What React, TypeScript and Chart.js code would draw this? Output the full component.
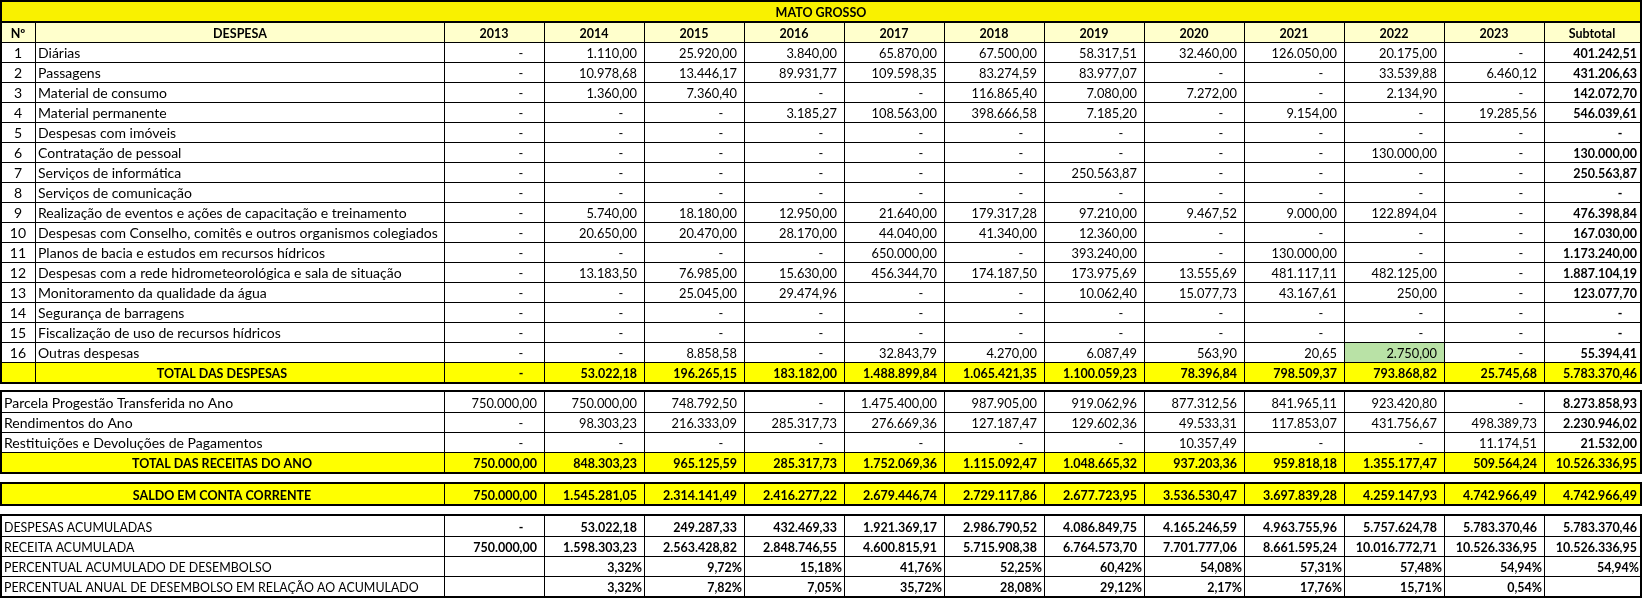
import { useEffect, useRef } from 'react';
import { Chart, registerables } from 'chart.js';

Chart.register(...registerables);

// ---------------- DATA ----------------
const title = 'MATO GROSSO';
const years = ['2013', '2014', '2015', '2016', '2017', '2018', '2019', '2020', '2021', '2022', '2023'];

const despesaLabels = [
  'Diárias',
  'Passagens',
  'Material de consumo',
  'Material permanente',
  'Despesas com imóveis',
  'Contratação de pessoal',
  'Serviços de informática',
  'Serviços de comunicação',
  'Realização de eventos e ações de capacitação e treinamento',
  'Despesas com Conselho, comitês e outros organismos colegiados',
  'Planos de bacia e estudos em recursos hídricos',
  'Despesas com a rede hidrometeorológica e sala de situação',
  'Monitoramento da qualidade da água',
  'Segurança de barragens',
  'Fiscalização de uso de recursos hídricos',
  'Outras despesas',
];

type V = number | null;

const diarias: V[] = [null, 1110.0, 25920.0, 3840.0, 65870.0, 67500.0, 58317.51, 32460.0, 126050.0, 20175.0, null];
const passagens: V[] = [null, 10978.68, 13446.17, 89931.77, 109598.35, 83274.59, 83977.07, null, null, 33539.88, 6460.12];
const materialConsumo: V[] = [null, 1360.0, 7360.4, null, null, 116865.4, 7080.0, 7272.0, null, 2134.9, null];
const materialPermanente: V[] = [null, null, null, 3185.27, 108563.0, 398666.58, 7185.2, null, 9154.0, null, 19285.56];
const imoveis: V[] = [null, null, null, null, null, null, null, null, null, null, null];
const pessoal: V[] = [null, null, null, null, null, null, null, null, null, 130000.0, null];
const informatica: V[] = [null, null, null, null, null, null, 250563.87, null, null, null, null];
const comunicacao: V[] = [null, null, null, null, null, null, null, null, null, null, null];
const eventos: V[] = [null, 5740.0, 18180.0, 12950.0, 21640.0, 179317.28, 97210.0, 9467.52, 9000.0, 122894.04, null];
const conselho: V[] = [null, 20650.0, 20470.0, 28170.0, 44040.0, 41340.0, 12360.0, null, null, null, null];
const planos: V[] = [null, null, null, null, 650000.0, null, 393240.0, null, 130000.0, null, null];
const redeHidro: V[] = [null, 13183.5, 76985.0, 15630.0, 456344.7, 174187.5, 173975.69, 13555.69, 481117.11, 482125.0, null];
const qualidadeAgua: V[] = [null, null, 25045.0, 29474.96, null, null, 10062.4, 15077.73, 43167.61, 250.0, null];
const barragens: V[] = [null, null, null, null, null, null, null, null, null, null, null];
const fiscalizacao: V[] = [null, null, null, null, null, null, null, null, null, null, null];
const outras: V[] = [null, null, 8858.58, null, 32843.79, 4270.0, 6087.49, 563.9, 20.65, 2750.0, null];

const despesaValores: V[][] = [
  diarias, passagens, materialConsumo, materialPermanente, imoveis, pessoal, informatica, comunicacao,
  eventos, conselho, planos, redeHidro, qualidadeAgua, barragens, fiscalizacao, outras,
];
const despesaSubtotal: V[] = [
  401242.51, 431206.63, 142072.7, 546039.61, null, 130000.0, 250563.87, null,
  476398.84, 167030.0, 1173240.0, 1887104.19, 123077.7, null, null, 55394.41,
];

const totalDespesas: V[] = [null, 53022.18, 196265.15, 183182.0, 1488899.84, 1065421.35, 1100059.23, 78396.84, 798509.37, 793868.82, 25745.68];
const totalDespesasSub = 5783370.46;

const parcela: V[] = [750000.0, 750000.0, 748792.5, null, 1475400.0, 987905.0, 919062.96, 877312.56, 841965.11, 923420.8, null];
const parcelaSub = 8273858.93;
const rendimentos: V[] = [null, 98303.23, 216333.09, 285317.73, 276669.36, 127187.47, 129602.36, 49533.31, 117853.07, 431756.67, 498389.73];
const rendimentosSub = 2230946.02;
const restituicoes: V[] = [null, null, null, null, null, null, null, 10357.49, null, null, 11174.51];
const restituicoesSub = 21532.0;
const totalReceitas: V[] = [750000.0, 848303.23, 965125.59, 285317.73, 1752069.36, 1115092.47, 1048665.32, 937203.36, 959818.18, 1355177.47, 509564.24];
const totalReceitasSub = 10526336.95;

const saldo: V[] = [750000.0, 1545281.05, 2314141.49, 2416277.22, 2679446.74, 2729117.86, 2677723.95, 3536530.47, 3697839.28, 4259147.93, 4742966.49];
const saldoSub = 4742966.49;

const despesasAcum: V[] = [null, 53022.18, 249287.33, 432469.33, 1921369.17, 2986790.52, 4086849.75, 4165246.59, 4963755.96, 5757624.78, 5783370.46];
const despesasAcumSub = 5783370.46;
const receitaAcum: V[] = [750000.0, 1598303.23, 2563428.82, 2848746.55, 4600815.91, 5715908.38, 6764573.7, 7701777.06, 8661595.24, 10016772.71, 10526336.95];
const receitaAcumSub = 10526336.95;
const pctAcum: V[] = [null, 3.32, 9.72, 15.18, 41.76, 52.25, 60.42, 54.08, 57.31, 57.48, 54.94];
const pctAcumSub: V = 54.94;
const pctAnual: V[] = [null, 3.32, 7.82, 7.05, 35.72, 28.08, 29.12, 2.17, 17.76, 15.71, 0.54];
const pctAnualSub: V = null;

const receitaLabels = ['Parcela Progestão Transferida no Ano', 'Rendimentos do Ano', 'Restituições e Devoluções de Pagamentos'];
const acumLabels = ['DESPESAS ACUMULADAS', 'RECEITA ACUMULADA', 'PERCENTUAL ACUMULADO DE DESEMBOLSO', 'PERCENTUAL ANUAL DE DESEMBOLSO EM RELAÇÃO AO ACUMULADO'];

// highlighted cell: Outras despesas / 2022
const highlightRow = 15;
const highlightYear = '2022';

// ---------------- LAYOUT ----------------
const W = 1645;
const H = 598;
const FONT = 'Lato, "Noto Sans", sans-serif';
const COL_EDGES = [0, 35, 444, 544, 644, 744, 844, 944, 1044, 1144, 1244, 1344, 1444, 1544, 1640];
const RIGHT = 1642;

const C_TITLE = '#F9F100';
const C_HEADER = '#FFFFCC';
const C_TOTAL = '#FFFF00';
const C_GREEN = '#B9E2A6';

function fmtNum(v: number): string {
  const [i, d] = Math.abs(v).toFixed(2).split('.');
  const ii = i.replace(/\B(?=(\d{3})+(?!\d))/g, '.');
  return (v < 0 ? '-' : '') + ii + ',' + d;
}
function fmtPct(v: number): string {
  return v.toFixed(2).replace('.', ',') + '%';
}

const tablePlugin = {
  id: 'tablePlugin',
  afterDraw(chart: any) {
    const ctx: CanvasRenderingContext2D = chart.ctx;
    const sx = chart.scales.x;
    const sy = chart.scales.y;
    const X = (v: number) => Math.round(sx.getPixelForValue(v));
    const Y = (v: number) => Math.round(sy.getPixelForValue(v));
    const rect = (x0: number, y0: number, x1: number, y1: number, c: string) => {
      ctx.fillStyle = c;
      ctx.fillRect(X(x0), Y(y0), X(x1) - X(x0), Y(y1) - Y(y0));
    };
    const fit = (weight: string, sample: string, target: number) => {
      ctx.font = `${weight} 40px ${FONT}`;
      return (40 * target) / ctx.measureText(sample).width;
    };
    const fReg = `normal ${fit('normal', '923.420,80', 65.5).toFixed(2)}px ${FONT}`;
    const fBold = `bold ${fit('bold', '5.783.370,46', 74).toFixed(2)}px ${FONT}`;
    const fLabel = `normal ${fit('normal', despesaLabels[9], 400).toFixed(2)}px ${FONT}`;
    const fUpper = `normal ${fit('normal', acumLabels[3], 415).toFixed(2)}px ${FONT}`;
    const fBoldLabel = `bold ${fit('bold', 'TOTAL DAS RECEITAS DO ANO', 180).toFixed(2)}px ${FONT}`;

    const text = (s: string, x: number, y: number, align: CanvasTextAlign, font: string) => {
      ctx.font = font;
      ctx.textAlign = align;
      ctx.textBaseline = 'alphabetic';
      ctx.fillStyle = '#000000';
      ctx.fillText(s, X(x), Y(y));
    };

    const yearLeft = (k: number) => COL_EDGES[k + 2];
    const yearRight = (k: number) => COL_EDGES[k + 3];
    const subL = COL_EDGES[13];
    const subR = COL_EDGES[14];

    const numCell = (v: V, right: number, isSub: boolean, baseY: number, font: string) => {
      if (v === null) {
        text('-', right - (isSub ? 20 : 23), baseY, 'center', font);
      } else {
        text(fmtNum(v), right - (isSub ? 3 : 7), baseY, 'right', font);
      }
    };
    const pctCell = (v: V, right: number, isSub: boolean, baseY: number, font: string) => {
      if (v === null) return;
      text(fmtPct(v), right - (isSub ? 1 : 2), baseY, 'right', font);
    };
    const valueRow = (vals: V[], sub: V, bottom: number, font: string, subFont: string) => {
      const b = bottom - 4;
      vals.forEach((v, k) => numCell(v, yearRight(k), false, b, font));
      numCell(sub, subR, true, b, subFont);
    };

    // background
    rect(0, 0, W, H, '#FFFFFF');

    // ---------- Section 1 ----------
    rect(0, 0, RIGHT, 21, C_TITLE);
    rect(0, 23, RIGHT, 42, C_HEADER);
    rect(0, 362, RIGHT, 382, C_TOTAL);
    const hk = years.indexOf(highlightYear);
    rect(yearLeft(hk), 42 + 20 * highlightRow, yearRight(hk), 62 + 20 * highlightRow, C_GREEN);

    text(title, RIGHT / 2, 17, 'center', fBoldLabel);
    text('Nº', COL_EDGES[1] / 2, 38, 'center', fBoldLabel);
    text('DESPESA', (COL_EDGES[1] + COL_EDGES[2]) / 2, 38, 'center', fBoldLabel);
    years.forEach((yy, k) => text(yy, (yearLeft(k) + yearRight(k)) / 2, 38, 'center', fBoldLabel));
    text('Subtotal', (subL + subR) / 2, 38, 'center', fBoldLabel);

    despesaLabels.forEach((lab, i) => {
      const bottom = 62 + 20 * i;
      text(String(i + 1), COL_EDGES[1] / 2, bottom - 4, 'center', fLabel);
      text(lab, COL_EDGES[1] + 3, bottom - 4, 'left', fLabel);
      valueRow(despesaValores[i], despesaSubtotal[i], bottom, fReg, fBold);
    });
    text('TOTAL DAS DESPESAS', COL_EDGES[2] / 2, 378, 'center', fBoldLabel);
    valueRow(totalDespesas, totalDespesasSub, 382, fBold, fBold);

    // lines section 1
    for (let i = 0; i <= 16; i++) rect(0, 42 + 20 * i, RIGHT, 43 + 20 * i, '#000');
    rect(0, 0, RIGHT, 2, '#000');
    rect(0, 21, RIGHT, 23, '#000');
    rect(0, 382, RIGHT, 384, '#000');
    for (let c = 1; c < COL_EDGES.length - 1; c++) rect(COL_EDGES[c], 21, COL_EDGES[c] + 1, 384, '#000');
    rect(0, 0, 2, 384, '#000');
    rect(RIGHT - 2, 0, RIGHT, 384, '#000');

    // ---------- Section 2 ----------
    rect(0, 452, RIGHT, 472, C_TOTAL);
    const s2Vals = [parcela, rendimentos, restituicoes];
    const s2Subs = [parcelaSub, rendimentosSub, restituicoesSub];
    receitaLabels.forEach((lab, i) => {
      const bottom = 412 + 20 * i;
      text(lab, 4, bottom - 4, 'left', fLabel);
      valueRow(s2Vals[i], s2Subs[i], bottom, fReg, fBold);
    });
    text('TOTAL DAS RECEITAS DO ANO', COL_EDGES[2] / 2, 468, 'center', fBoldLabel);
    valueRow(totalReceitas, totalReceitasSub, 472, fBold, fBold);
    rect(0, 390, RIGHT, 392, '#000');
    for (let i = 0; i < 3; i++) rect(0, 412 + 20 * i, RIGHT, 413 + 20 * i, '#000');
    rect(0, 472, RIGHT, 474, '#000');
    for (let c = 2; c < COL_EDGES.length - 1; c++) rect(COL_EDGES[c], 390, COL_EDGES[c] + 1, 474, '#000');
    rect(0, 390, 2, 474, '#000');
    rect(RIGHT - 2, 390, RIGHT, 474, '#000');

    // ---------- Section 3 ----------
    rect(0, 484, RIGHT, 504, C_TOTAL);
    text('SALDO EM CONTA CORRENTE', COL_EDGES[2] / 2, 500, 'center', fBoldLabel);
    valueRow(saldo, saldoSub, 504, fBold, fBold);
    rect(0, 482, RIGHT, 484, '#000');
    rect(0, 504, RIGHT, 506, '#000');
    for (let c = 2; c < COL_EDGES.length - 1; c++) rect(COL_EDGES[c], 482, COL_EDGES[c] + 1, 506, '#000');
    rect(0, 482, 2, 506, '#000');
    rect(RIGHT - 2, 482, RIGHT, 506, '#000');

    // ---------- Section 4 ----------
    acumLabels.forEach((lab, i) => text(lab, 4, 532 + 20 * i, 'left', fUpper));
    valueRow(despesasAcum, despesasAcumSub, 536, fBold, fBold);
    valueRow(receitaAcum, receitaAcumSub, 556, fBold, fBold);
    pctAcum.forEach((v, k) => pctCell(v, yearRight(k), false, 572, fBold));
    pctCell(pctAcumSub, subR, true, 572, fBold);
    pctAnual.forEach((v, k) => pctCell(v, yearRight(k), false, 592, fBold));
    pctCell(pctAnualSub, subR, true, 592, fBold);
    rect(0, 514, RIGHT, 516, '#000');
    for (let i = 0; i < 3; i++) rect(0, 536 + 20 * i, RIGHT, 537 + 20 * i, '#000');
    rect(0, 596, RIGHT, 598, '#000');
    for (let c = 2; c < COL_EDGES.length - 1; c++) rect(COL_EDGES[c], 514, COL_EDGES[c] + 1, 598, '#000');
    rect(0, 514, 2, 598, '#000');
    rect(RIGHT - 2, 514, RIGHT, 598, '#000');
  },
};

export default function App() {
  const ref = useRef<HTMLCanvasElement>(null);
  useEffect(() => {
    document.body.style.margin = '0';
    const canvas = ref.current!;
    const chart = new Chart(canvas, {
      type: 'scatter',
      data: { datasets: [] },
      options: {
        responsive: false,
        animation: false,
        devicePixelRatio: 1,
        layout: { padding: 0 },
        plugins: { legend: { display: false }, tooltip: { enabled: false } },
        scales: {
          x: { type: 'linear', display: false, min: 0, max: W },
          y: { type: 'linear', display: false, min: 0, max: H, reverse: true },
        },
      },
      plugins: [tablePlugin],
    } as any);
    return () => chart.destroy();
  }, []);
  return <canvas ref={ref} width={W} height={H} style={{ display: 'block', width: W, height: H }} />;
}
